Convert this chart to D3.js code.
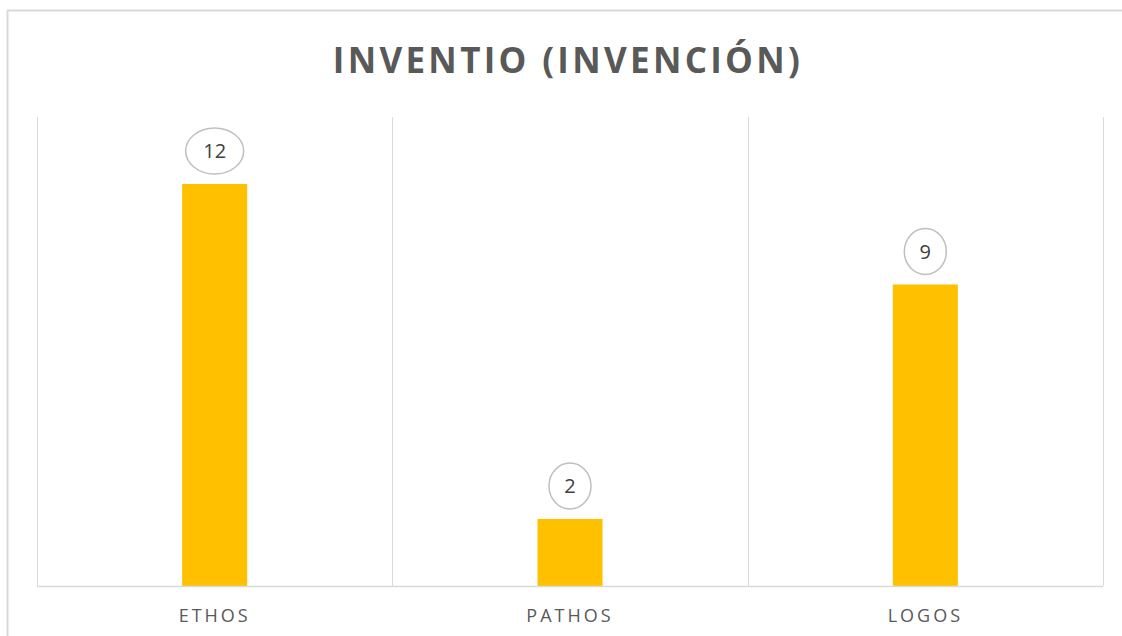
<!DOCTYPE html>
<html>
<head>
<meta charset="utf-8">
<style>
body { margin: 0; background: #fff; }
#chart { display: block; }
</style>
</head>
<body>
<svg id="chart" width="1122" height="636"></svg>
<script src="https://d3js.org/d3.v7.min.js"></script>
<script>
    const categories = ["ETHOS", "PATHOS", "LOGOS"];
    const values = [12, 2, 9];
    const chart_title = "INVENTIO (INVENCIÓN)";

    const svg = d3.select("#chart");
    const plot = { left: 37, right: 1103, top: 117, bottom: 586 };
    const grey = "#d9d9d9";
    const font = "'Open Sans', 'Noto Sans', sans-serif";

    // outer chart border (runs past the right and bottom edge)
    svg.append("rect")
        .attr("x", 7.5).attr("y", 10.5)
        .attr("width", 1300).attr("height", 800)
        .style("fill", "none")
        .style("stroke", grey)
        .style("stroke-width", 2);

    svg.append("text")
        .attr("x", 568).attr("y", 73)
        .attr("text-anchor", "middle")
        .style("font-family", font)
        .style("font-weight", "bold")
        .style("font-size", "35px")
        .style("letter-spacing", "3.3px")
        .style("fill", "#595959")
        .text(chart_title);

    const x = d3.scaleBand()
        .domain(categories)
        .range([plot.left, plot.right])
        .padding(0);
    const y = d3.scaleLinear()
        .domain([0, 14])
        .range([plot.bottom, plot.top]);

    const bar_width = x.bandwidth() * 0.183;

    // vertical gridlines on category boundaries
    const bounds = categories.map(c => x(c)).concat([x.range()[1]]);
    svg.selectAll("line.grid")
        .data(bounds)
        .enter()
        .append("line")
        .attr("class", "grid")
        .attr("x1", d => Math.round(d) + 0.5)
        .attr("x2", d => Math.round(d) + 0.5)
        .attr("y1", y(14))
        .attr("y2", y(0))
        .style("stroke", grey)
        .style("stroke-width", 1);

    svg.selectAll("rect.bar")
        .data(values)
        .enter()
        .append("rect")
        .attr("class", "bar")
        .attr("x", (d, i) => x(categories[i]) + x.bandwidth() / 2 - bar_width / 2)
        .attr("y", d => y(d))
        .attr("width", bar_width)
        .attr("height", d => y(0) - y(d))
        .style("fill", "#FFC000");

    // category axis
    const axis = svg.append("g")
        .attr("transform", `translate(0,${plot.bottom})`)
        .call(d3.axisBottom(x).tickSize(0).tickPadding(23));
    axis.select(".domain")
        .attr("d", `M${plot.left},0.5H${plot.right}`)
        .style("stroke", grey)
        .style("stroke-width", 1.5);
    axis.selectAll("text")
        .style("font-family", font)
        .style("font-size", "18px")
        .style("letter-spacing", "3px")
        .style("fill", "#595959");

    // data labels inside oval callouts
    const labels = svg.selectAll("g.label")
        .data(values)
        .enter()
        .append("g")
        .attr("class", "label")
        .attr("transform", (d, i) => `translate(${x(categories[i]) + x.bandwidth() / 2},${y(d) - 33})`);
    labels.append("ellipse")
        .attr("rx", d => String(d).length > 1 ? 29 : 21)
        .attr("ry", 23)
        .style("fill", "#fff")
        .style("stroke", "#bfbfbf")
        .style("stroke-width", 1.5);
    labels.append("text")
        .attr("text-anchor", "middle")
        .attr("dy", "0.35em")
        .style("font-family", font)
        .style("font-size", "20px")
        .style("fill", "#404040")
        .text(d => d);
</script>
</body>
</html>
